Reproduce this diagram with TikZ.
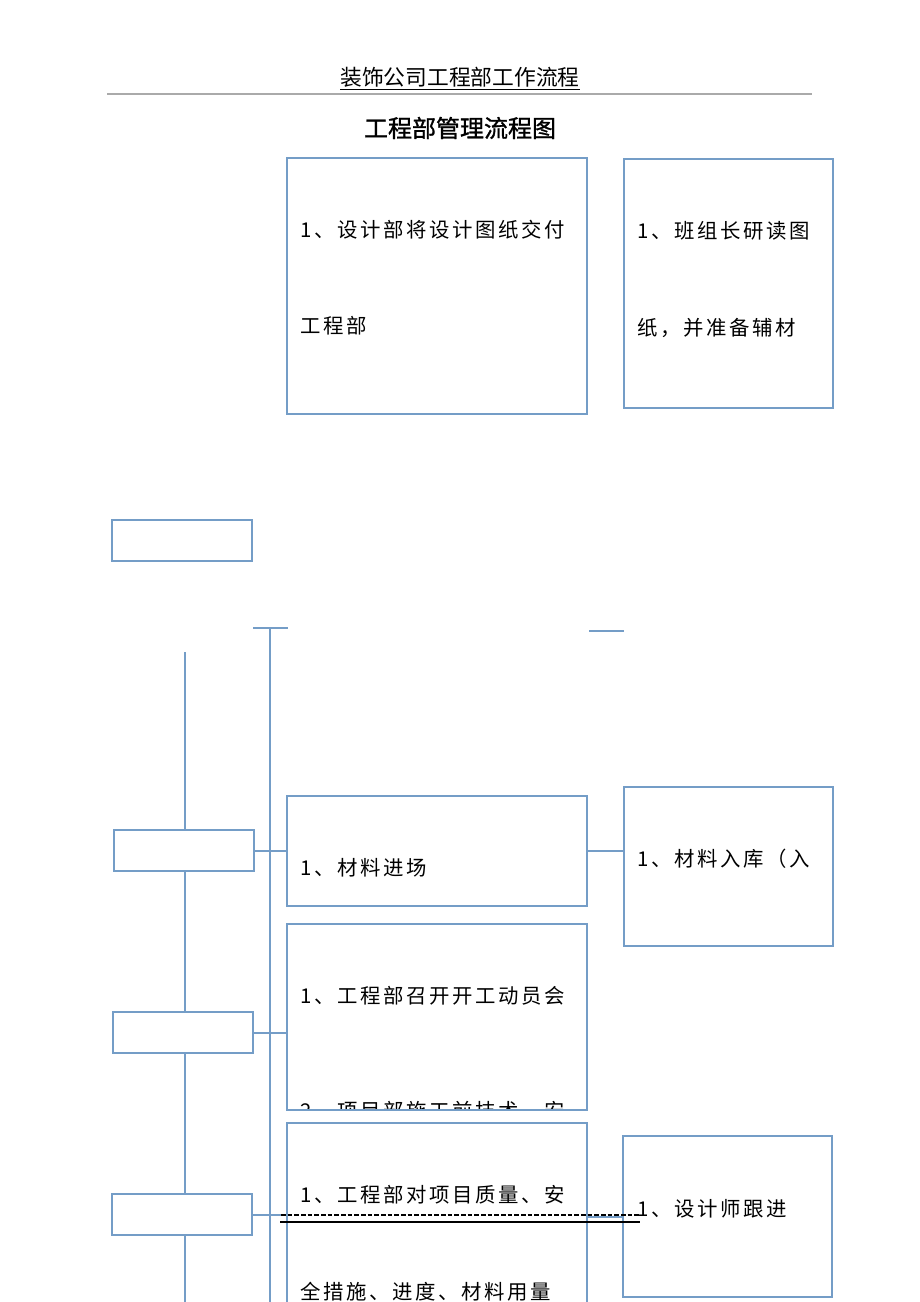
\documentclass[tikz,border=0pt]{standalone}
\usepackage{fontspec}
\usetikzlibrary{fit}
\newfontfamily\cjk[LetterSpace=13]{Noto Sans CJK SC}
\newfontfamily\cjkplain{Noto Sans CJK SC}
\newfontfamily\cjktitle[FakeBold=1.2]{Noto Sans CJK SC}
\definecolor{boxblue}{RGB}{116,157,199}
\definecolor{rulegray}{RGB}{170,170,170}
\tikzset{
  bx/.style={draw=boxblue, line width=1.5pt, inner sep=0pt},
  conn/.style={draw=boxblue, line width=1.5pt},
  txt/.style={anchor=west, inner sep=0pt, font=\cjk\fontsize{15.3}{18}\selectfont, text=black},
}
\begin{document}
\begin{tikzpicture}[x=0.75pt,y=-0.75pt]
\useasboundingbox (0,0) rectangle (920,1302);
\fill[white] (0,0) rectangle (920,1302);
\begin{scope}
\clip (0,0) rectangle (920,1302);
% header
\node[inner sep=0pt, font=\cjkplain\fontsize{16.3}{19}\selectfont] (hdr) at (460,79) {\underline{装饰公司工程部工作流程}};
\coordinate (rl) at (107,94);
\coordinate (rr) at (812,94);
\draw[rulegray, line width=0.8pt] (rl) -- (rr);
\node[inner sep=0pt, font=\cjktitle\fontsize{18}{21}\selectfont] (ttl) at (460,128) {工程部管理流程图};

% boxes
\node[bx, fit={(287,158) (587,414)}] (A) {};
\node[bx, fit={(624,159) (833,408)}] (B) {};
\node[bx, fit={(112,520) (252,561)}] (C) {};
\node[bx, fit={(114,830) (254,871)}] (D) {};
\node[bx, fit={(287,796) (587,906)}] (E) {};
\node[bx, fit={(624,787) (833,946)}] (F) {};
\node[bx, fit={(113,1012) (253,1053)}] (G) {};
\node[bx, fit={(287,924) (587,1110)}] (H) {};
\node[bx, fit={(112,1194) (252,1235)}] (I) {};
\node[bx, fit={(287,1123) (587,1320)}] (J) {};
\node[bx, fit={(623,1136) (832,1297)}] (K) {};

% texts
\node[txt] (a1) at (300,230) {1、设计部将设计图纸交付};
\node[txt] (a2) at (300,326) {工程部};
\node[txt] (b1) at (637,231) {1、班组长研读图};
\node[txt] (b2) at (637,328) {纸，并准备辅材};
\node[txt] (e1) at (300,868) {1、材料进场};
\node[txt] (f1) at (637,859) {1、材料入库（入};
\node[txt] (h1) at (300,996) {1、工程部召开开工动员会};
\begin{scope}
\clip (288,925) rectangle (586,1108);
\node[txt] (h2) at (300,1111) {2、项目部施工前技术、安};
\end{scope}
\node[txt] (j1) at (300,1195) {1、工程部对项目质量、安};
\node[txt] (j2) at (300,1292) {全措施、进度、材料用量};
\node[txt] (k1) at (637,1209) {1、设计师跟进};

% T shape and short line
\coordinate (t1) at (253,628);
\coordinate (t2) at (288,628);
\coordinate (tv) at (270,628);
\coordinate (tb) at (270,1310);
\draw[conn] (t1) -- (t2);
\draw[conn] (tv) -- (tb);
\coordinate (s1) at (589,631);
\coordinate (s2) at (624,631);
\draw[conn] (s1) -- (s2);

% left spine
\coordinate (ltop) at (185,652);
\coordinate (lbot) at (185,1310);
\draw[conn] (ltop) -- (ltop |- D.north);
\draw[conn] (D.south -| ltop) -- (G.north -| ltop);
\draw[conn] (G.south -| ltop) -- (I.north -| ltop);
\draw[conn] (I.south -| ltop) -- (lbot);

% horizontal connectors
\draw[conn] (D.east) -- (D.east -| E.west);
\draw[conn] (E.east) -- (E.east -| F.west);
\draw[conn] (G.east) -- (G.east -| H.west);
\draw[conn] (I.east) -- (I.east -| J.west);
\coordinate (jk) at (587,1217);
\draw[conn] (jk) -- (jk -| K.west);

% black lines
\coordinate (d1) at (281,1215);
\coordinate (d2) at (640,1215);
\draw[black, line width=0.8pt, dash pattern=on 3.5pt off 1.5pt] (d1) -- (d2);
\coordinate (u1) at (280,1222);
\coordinate (u2) at (640,1222);
\draw[black, line width=0.8pt] (u1) -- (u2);
\end{scope}
\end{tikzpicture}
\end{document}
